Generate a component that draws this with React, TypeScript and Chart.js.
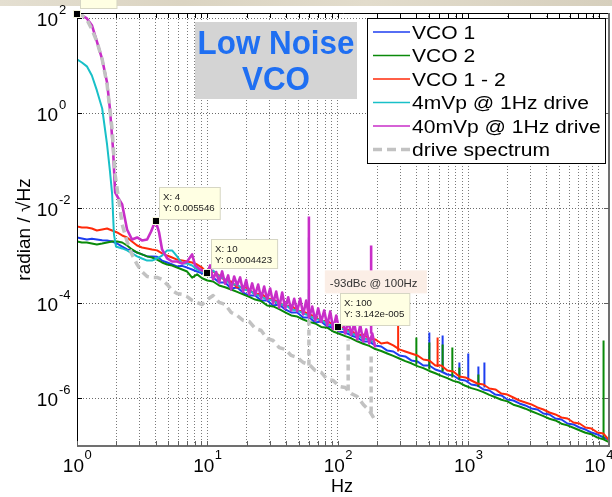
import { useEffect, useRef } from "react";
import { Chart, registerables } from "chart.js";

Chart.register(...registerables);

// ---------- frequency grids (Hz) ----------
const freqLo = [1, 1.09, 1.19, 1.3, 1.42, 1.56, 1.7, 1.86, 2.03, 2.22, 2.42, 2.64, 2.89, 3.15, 3.45, 3.76, 4.11, 4.49, 4.91, 5.36, 5.85, 6.4, 6.99, 7.63, 8.34, 9.11];
const freqHi = [10, 11.06, 12.3, 13.67, 15.2, 16.9, 18.79, 20.89, 23.23, 25.83, 28.72, 31.93, 35.51, 39.48, 43.89, 48.8, 54.26, 60.33, 67.07, 74.57, 82.91, 92.18, 102.5, 114, 126.7, 140.9, 156.6, 174.2, 193.6, 215.3, 239.4, 266.2, 296, 329.1, 365.9, 406.9, 452.4, 503, 559.2, 621.7, 691.3, 768.6, 854.6, 950, 1056, 1175, 1306, 1452, 1614, 1795, 1996, 2219, 2467, 2743, 3050, 3391, 3771, 4193, 4662, 5183, 5763, 6408, 7124, 7921, 8807, 9791, 10885, 11890];
const freqMag = [10, 10.49, 11.06, 11.66, 12.3, 12.97, 13.67, 14.42, 15.2, 16.03, 16.9, 17.82, 18.79, 19.82, 20.89, 22.03, 23.23, 24.49, 25.83, 27.23, 28.72, 30.28, 31.93, 33.67, 35.51, 37.44, 39.48, 41.63, 43.89, 46.28, 48.8, 51.45, 54.26, 57.21, 60.33, 63.61, 67.07, 70.72, 74.57, 78.63, 82.91, 87.42, 92.18, 97.2, 102.5, 108.1, 114, 120.2, 126.7, 133.6, 140.9, 148.6, 156.6, 165.2, 174.2, 183.7, 193.6];
const cyanLoFreq = [1, 1.09, 1.19, 1.3, 1.42, 1.56, 1.7, 1.79, 1.86, 1.92, 1.99, 2.1, 2.22, 2.42, 2.64, 2.89, 3.15, 3.45, 3.76, 4.11, 4.49, 4.91, 5.36, 5.85, 6.4, 6.99, 7.63, 8.34, 9.11];
const magLoFreq = [1, 1.09, 1.19, 1.3, 1.42, 1.56, 1.7, 1.79, 1.89, 1.96, 2.06, 2.22, 2.42, 2.64, 2.89, 3.15, 3.45, 3.7, 4, 4.26, 4.49, 4.91, 5.36, 5.85, 6.4, 6.99, 7.63, 8.05, 8.79];
const grayLoFreq = [1, 1.09, 1.19, 1.3, 1.42, 1.56, 1.7, 1.86, 1.96, 2.06, 2.22, 2.42, 2.64, 2.89, 3.15, 3.45, 3.76, 4.11, 4.49, 4.91, 5.36, 5.85, 6.4, 6.99, 7.63, 8.34, 9.11];

// ---------- series values (radian / sqrt(Hz)) ----------
const vco1Lo = [2.45e-3, 2.33e-3, 2.22e-3, 2.3e-3, 2.22e-3, 2.15e-3, 2.12e-3, 2.02e-3, 1.83e-3, 1.58e-3, 1.37e-3, 1.31e-3, 1.18e-3, 1.08e-3, 9.8e-4, 9.8e-4, 9.6e-4, 8.0e-4, 7.3e-4, 6.6e-4, 6.0e-4, 6.2e-4, 5.7e-4, 5.2e-4, 4.7e-4, 4.3e-4];
const vco1Hi = [3.89e-4, 3.53e-4, 2.77e-4, 2.77e-4, 2.07e-4, 2.17e-4, 1.7e-4, 1.47e-4, 1.47e-4, 1.16e-4, 1.16e-4, 9.07e-5, 9.53e-5, 7.49e-5, 6.47e-5, 6.47e-5, 5.07e-5, 5.07e-5, 3.98e-5, 4.18e-5, 3.28e-5, 3.12e-5, 2.57e-5, 2.45e-5, 2.12e-5, 1.92e-5, 1.58e-5, 1.58e-5, 1.31e-5, 1.24e-5, 1.02e-5, 9.77e-6, 8.05e-6, 7.67e-6, 6.32e-6, 6.02e-6, 4.95e-6, 4.95e-6, 4.08e-6, 3.7e-6, 3.2e-6, 3.05e-6, 2.51e-6, 2.39e-6, 1.97e-6, 1.88e-6, 1.55e-6, 1.47e-6, 1.21e-6, 1.16e-6, 9.53e-7, 9.07e-7, 7.86e-7, 7.14e-7, 6.17e-7, 5.87e-7, 4.83e-7, 4.61e-7, 3.79e-7, 3.61e-7, 2.98e-7, 2.84e-7, 2.45e-7, 2.22e-7, 1.92e-7, 1.75e-7, 1.51e-7, 1.37e-7];
const vco2Lo = [2.02e-3, 1.92e-3, 1.92e-3, 1.83e-3, 1.75e-3, 1.83e-3, 1.92e-3, 2.02e-3, 2.02e-3, 1.92e-3, 1.66e-3, 1.37e-3, 1.18e-3, 1.08e-3, 9.8e-4, 9.3e-4, 8.4e-4, 7.3e-4, 6.6e-4, 6.3e-4, 5.7e-4, 5.2e-4, 4.7e-4, 3.5e-4, 4.1e-4, 3.4e-4];
const vco2Hi = [3.05e-4, 2.9e-4, 2.39e-4, 2.2e-4, 1.97e-4, 1.75e-4, 1.55e-4, 1.38e-4, 1.21e-4, 1.12e-4, 9.07e-5, 8.66e-5, 7.6e-5, 6.5e-5, 5.59e-5, 5.3e-5, 4.6e-5, 4.1e-5, 3.79e-5, 3.2e-5, 3.1e-5, 2.57e-5, 2.3e-5, 2.05e-5, 1.85e-5, 1.6e-5, 1.42e-5, 1.28e-5, 1.1e-5, 1.0e-5, 8.87e-6, 7.9e-6, 6.96e-6, 6.1e-6, 5.5e-6, 4.8e-6, 4.35e-6, 3.8e-6, 3.4e-6, 3.0e-6, 2.68e-6, 2.35e-6, 2.17e-6, 1.85e-6, 1.65e-6, 1.52e-6, 1.36e-6, 1.19e-6, 1.06e-6, 9.4e-7, 8.7e-7, 7.4e-7, 6.8e-7, 6.1e-7, 5.4e-7, 4.8e-7, 4.25e-7, 3.75e-7, 3.45e-7, 2.95e-7, 2.72e-7, 2.42e-7, 2.15e-7, 1.9e-7, 1.76e-7, 1.5e-7, 1.38e-7, 1.22e-7];
const vco12Lo = [4.17e-3, 3.98e-3, 3.98e-3, 3.79e-3, 3.44e-3, 3.61e-3, 3.79e-3, 3.44e-3, 3.12e-3, 2.7e-3, 2.45e-3, 2.02e-3, 1.66e-3, 1.51e-3, 1.44e-3, 1.37e-3, 1.31e-3, 1.13e-3, 1.02e-3, 9.3e-4, 8.4e-4, 8.0e-4, 7.65e-4, 7.3e-4, 6.6e-4, 5.7e-4];
const vco12Hi = [4.28e-4, 4.72e-4, 3.89e-4, 3.05e-4, 2.9e-4, 2.17e-4, 2.28e-4, 1.97e-4, 1.55e-4, 1.62e-4, 1.27e-4, 1.21e-4, 1.05e-4, 8.66e-5, 9.07e-5, 7.14e-5, 6.8e-5, 5.87e-5, 5.33e-5, 4.18e-5, 4.39e-5, 3.44e-5, 3.28e-5, 2.84e-5, 2.7e-5, 2.12e-5, 2.22e-5, 1.83e-5, 1.75e-5, 1.44e-5, 1.51e-5, 1.31e-5, 1.08e-5, 9.77e-6, 8.87e-6, 8.05e-6, 6.63e-6, 6.32e-6, 4.95e-6, 4.95e-6, 3.89e-6, 3.7e-6, 2.9e-6, 2.77e-6, 2.39e-6, 2.07e-6, 1.97e-6, 1.62e-6, 1.55e-6, 1.27e-6, 1.21e-6, 1.05e-6, 9.07e-7, 8.25e-7, 7.49e-7, 6.47e-7, 5.87e-7, 5.07e-7, 4.61e-7, 3.98e-7, 3.79e-7, 3.12e-7, 2.98e-7, 2.45e-7, 2.33e-7, 1.92e-7, 1.83e-7, 1.37e-7];
const cyanLo = [13.7, 11.8, 9.8, 6.3, 3.05, 1.27, 0.222, 0.06, 0.0197, 2.84e-3, 1.58e-3, 1.51e-3, 1.44e-3, 1.31e-3, 1.13e-3, 9.8e-4, 8.85e-4, 8.0e-4, 8.0e-4, 8.85e-4, 1.02e-3, 1.31e-3, 1.31e-3, 9.8e-4, 6.95e-4, 6.95e-4, 6.3e-4, 5.2e-4, 4.7e-4];
const cyanHi = [4.08e-4, 4.95e-4, 3.7e-4, 3.2e-4, 2.51e-4, 2.51e-4, 1.97e-4, 1.88e-4, 1.55e-4, 1.4e-4, 1.21e-4, 1.16e-4, 9.53e-5, 9.53e-5, 7.49e-5, 7.14e-5, 6.17e-5, 5.59e-5, 4.61e-5, 4.61e-5, 3.61e-5, 3.44e-5, 2.98e-5, 2.84e-5, 2.33e-5, 2.12e-5, 1.83e-5, 1.75e-5, 1.44e-5];
const magLo = [125, 116, 100, 72, 33, 13.7, 4.5, 1.21, 0.175, 0.0217, 0.017, 0.0121, 3.6e-3, 2.22e-3, 2.45e-3, 2.12e-3, 2.22e-3, 3.28e-3, 5.546e-3, 3.12e-3, 1.37e-3, 8.85e-4, 7.65e-4, 7.65e-4, 6.95e-4, 7.65e-4, 1.08e-3, 6.3e-4, 5.2e-4];
const magHi = [4.423e-4, 6.32e-4, 3.2e-4, 4.6e-4, 2.77e-4, 4.72e-4, 2.6e-4, 3.89e-4, 1.97e-4, 3.7e-4, 2.4e-4, 3.53e-4, 1.79e-4, 3.1e-4, 1.55e-4, 2.64e-4, 1.5e-4, 2.51e-4, 1.27e-4, 2.28e-4, 1.2e-4, 2.07e-4, 1.0e-4, 1.79e-4, 8.2e-5, 1.7e-4, 7.86e-5, 1.35e-4, 7.14e-5, 1.25e-4, 6.9e-5, 1.27e-4, 5.87e-5, 1.15e-4, 5.07e-5, 8.6e-5, 4.39e-5, 7.86e-5, 4.1e-5, 7.14e-5, 3.44e-5, 6.8e-5, 2.9e-5, 5.59e-5, 2.7e-5, 4.6e-5, 2.33e-5, 4.39e-5, 2.2e-5, 3.79e-5, 1.75e-5, 3.5e-5, 1.58e-5, 2.84e-5, 1.44e-5, 2.33e-5, 1.18e-5];
const grayLo = [120, 116, 95, 58.7, 32.8, 13.7, 4.08, 0.46, 0.052, 0.0197, 4.6e-3, 2.02e-3, 1.08e-3, 6.6e-4, 4.7e-4, 3.7e-4, 3.53e-4, 3.53e-4, 3.2e-4, 2.51e-4, 1.88e-4, 1.62e-4, 1.55e-4, 1.4e-4, 1.16e-4, 1.05e-4, 9.5e-5];
const grayHi = [1.21e-4, 1.47e-4, 1.05e-4, 9.53e-5, 6.47e-5, 5.59e-5, 4.39e-5, 4.18e-5, 2.98e-5, 2.7e-5, 1.83e-5, 1.66e-5, 1.18e-5, 1.08e-5, 8.05e-6, 7.31e-6, 5.73e-6, 5.2e-6, 3.89e-6, 3.53e-6, 2.51e-6, 2.39e-6, 1.79e-6, 1.7e-6, 1.27e-6, 1.1e-6, 7.49e-7, 5.59e-7, 3.44e-7];

// spikes: [frequency, base value, peak value]
const vco1Spikes = [[60, 5.07e-5, 2.45e-3], [503, 4.95e-6, 2.45e-5], [636, 3.89e-6, 2.12e-5], [855, 2.77e-6, 5.73e-6], [1000, 2.28e-6, 8.87e-6], [1196, 1.88e-6, 4.72e-6], [1330, 1.7e-6, 5.73e-6]];
const vco2Spikes = [[60, 5.07e-5, 1.97e-4], [400, 5.2e-6, 1.92e-5], [503, 4.08e-6, 1.51e-5], [636, 3.7e-6, 1.37e-5], [755, 2.77e-6, 1.18e-5], [855, 2.5e-6, 4.5e-6], [1196, 1.75e-6, 3.2e-6], [10900, 1.37e-7, 1.66e-5]];
const vco12Spikes = [[290, 9.77e-6, 3.61e-5], [582, 4.6e-6, 1.92e-5]];
const magSpikes = [[60, 5.07e-5, 6.8e-3], [180, 2.3e-5, 1.66e-3]];
const graySpikes = [[60, 4.95e-6, 4.61e-5], [120, 1.47e-6, 1.75e-5], [180, 5.07e-7, 8.45e-6]];

// ---------- axes / labels ----------
const xMin = 1, xMax = 12000, yMin = 1e-7, yMax = 130;
const xTickValues: number[] = [];
for (let e = 0; e <= 4; e++) for (let m = 1; m <= 9; m++) { const v = m * Math.pow(10, e); if (v <= xMax) xTickValues.push(v); }
const yTickValues = [1e-6, 1e-4, 1e-2, 1, 100];
const xLabelVals = [1, 10, 100, 1000, 10000];
const xLabelExps = ["0", "1", "2", "3", "4"];
const yLabelExps = ["-6", "-4", "-2", "0", "2"];
const seriesLabels = ["VCO 1", "VCO 2", "VCO 1 - 2", "4mVp @ 1Hz drive", "40mVp @ 1Hz drive", "drive spectrum"];
const seriesColors = ["#1e3ef0", "#0a8a0a", "#ff2a0a", "#18c0c8", "#c82ec8", "#c2c2c2"];
const datatips = [
  { x: 1, y: magLo[0], lines: ["X: 1", "Y: 125"], dx: 3, dy: -36, h: 30, showText: false },
  { x: 4, y: 0.005546, lines: ["X: 4", "Y: 0.005546"], dx: 3.5, dy: -34, h: 32, showText: true },
  { x: 10, y: 0.0004423, lines: ["X: 10", "Y: 0.0004423"], dx: 3.6, dy: -34, h: 29, showText: true },
  { x: 100, y: 3.142e-5, lines: ["X: 100", "Y: 3.142e-005"], dx: 2.2, dy: -34, h: 32, showText: true },
];
const noteText = "-93dBc @ 100Hz";
const titleLines = ["Low Noise", "VCO"];

const FONT = "'Liberation Sans', Arial, Helvetica, sans-serif";

const pts = (f: number[], v: number[]) => v.map((y, i) => ({ x: f[i], y }));
const spikePts = (s: number[][]) => {
  const out: any[] = [];
  for (const [f, b, t] of s) out.push({ x: f, y: b }, { x: f, y: t }, { x: f, y: null });
  return out;
};

const overlay = {
  id: "overlay",
  afterDraw(chart: any) {
    const ctx: CanvasRenderingContext2D = chart.ctx;
    const a = chart.chartArea;
    const xs = chart.scales.x;
    const ys = chart.scales.y;
    ctx.save();

    // top photo strip
    const g = ctx.createLinearGradient(0, 0, chart.width, 0);
    g.addColorStop(0, "#e4dfd1");
    g.addColorStop(0.3, "#dbd4c2");
    g.addColorStop(0.6, "#e2dccc");
    g.addColorStop(1, "#d6cfbd");
    ctx.fillStyle = g;
    ctx.fillRect(0, 0, chart.width, 6);

    // frame
    ctx.lineWidth = 1;
    ctx.strokeStyle = "#000";
    ctx.beginPath();
    ctx.moveTo(a.left + 0.5, a.bottom);
    ctx.lineTo(a.left + 0.5, a.top + 0.5);
    ctx.lineTo(a.right, a.top + 0.5);
    ctx.stroke();
    ctx.strokeStyle = "#707070";
    ctx.lineWidth = 2;
    ctx.beginPath();
    ctx.moveTo(a.left, a.bottom);
    ctx.lineTo(a.right, a.bottom);
    ctx.lineTo(a.right, a.top);
    ctx.stroke();

    // ticks
    ctx.lineWidth = 1;
    for (const v of xTickValues) {
      const px = Math.round(xs.getPixelForValue(v)) + 0.5;
      ctx.strokeStyle = "#606060";
      ctx.beginPath(); ctx.moveTo(px, a.bottom); ctx.lineTo(px, a.bottom - 5); ctx.stroke();
      ctx.strokeStyle = "#000";
      ctx.beginPath(); ctx.moveTo(px, a.top); ctx.lineTo(px, a.top + 5); ctx.stroke();
    }
    for (const v of yTickValues) {
      const py = Math.round(ys.getPixelForValue(v)) + 0.5;
      ctx.strokeStyle = "#000";
      ctx.beginPath(); ctx.moveTo(a.left, py); ctx.lineTo(a.left + 5, py); ctx.stroke();
      ctx.strokeStyle = "#606060";
      ctx.beginPath(); ctx.moveTo(a.right, py); ctx.lineTo(a.right - 5, py); ctx.stroke();
    }

    // tick labels
    ctx.fillStyle = "#000";
    ctx.textAlign = "left";
    ctx.textBaseline = "alphabetic";
    const mainFont = "19px " + FONT;
    const expFont = "13px " + FONT;
    xLabelVals.forEach((v, i) => {
      const px = xs.getPixelForValue(v);
      ctx.font = mainFont;
      const w1 = ctx.measureText("10").width;
      ctx.font = expFont;
      const w2 = ctx.measureText(xLabelExps[i]).width;
      const start = px - (w1 + w2) / 2;
      ctx.font = mainFont;
      ctx.fillText("10", start, a.bottom + 26);
      ctx.font = expFont;
      ctx.fillText(xLabelExps[i], start + w1 + 0.5, a.bottom + 13);
    });
    yTickValues.forEach((v, i) => {
      const py = ys.getPixelForValue(v);
      ctx.font = mainFont;
      const w1 = ctx.measureText("10").width;
      ctx.fillText("10", a.left - 19 - w1, py + 7.5);
      ctx.font = expFont;
      ctx.fillText(yLabelExps[i], a.left - 18, py - 4);
    });

    // axis titles
    ctx.font = "18px " + FONT;
    ctx.textAlign = "center";
    ctx.fillText("Hz", (a.left + a.right) / 2 - 1, a.bottom + 46);
    ctx.save();
    ctx.translate(30, (a.top + a.bottom) / 2);
    ctx.rotate(-Math.PI / 2);
    ctx.font = "19px " + FONT;
    ctx.fillText("radian / \u221AHz", 0, 0);
    ctx.restore();

    // title box
    ctx.fillStyle = "#d4d4d4";
    ctx.fillRect(195, 22, 162, 77);
    ctx.fillStyle = "#1f6ff2";
    ctx.font = "bold 33px " + FONT;
    ctx.textAlign = "center";
    [54, 90].forEach((by, i) => {
      ctx.save();
      ctx.translate(276, by);
      ctx.scale(0.95, 1);
      ctx.fillText(titleLines[i], 0, 0);
      ctx.restore();
    });

    // legend
    ctx.fillStyle = "#fff";
    ctx.fillRect(367.5, 18.5, 238, 145);
    ctx.strokeStyle = "#000";
    ctx.lineWidth = 1;
    ctx.strokeRect(367.5, 18.5, 238, 145);
    ctx.font = "18px " + FONT;
    ctx.textAlign = "left";
    seriesLabels.forEach((lab, i) => {
      const cy = 32 + i * 23.5;
      ctx.strokeStyle = seriesColors[i];
      if (i === 5) {
        ctx.lineWidth = 3.5;
        ctx.setLineDash([9, 5]);
      } else {
        ctx.lineWidth = 1.6;
        ctx.setLineDash([]);
      }
      ctx.beginPath();
      ctx.moveTo(373, cy);
      ctx.lineTo(410, cy);
      ctx.stroke();
      ctx.setLineDash([]);
      ctx.fillStyle = "#000";
      ctx.save();
      ctx.translate(412, cy + 6.5);
      ctx.scale(1.17, 1);
      ctx.fillText(lab, 0, 0);
      ctx.restore();
    });

    // note box
    const p4x = xs.getPixelForValue(datatips[3].x);
    const p4y = ys.getPixelForValue(datatips[3].y);
    ctx.fillStyle = "#fbeee6";
    ctx.fillRect(p4x - 13, p4y - 57, 102, 23);
    ctx.fillStyle = "#333";
    ctx.font = "11.5px " + FONT;
    ctx.fillText(noteText, p4x - 8, p4y - 40.5);

    // datatips
    datatips.forEach((d) => {
      const px = xs.getPixelForValue(d.x);
      const py = ys.getPixelForValue(d.y);
      ctx.font = "9.7px " + FONT;
      const w = Math.max(...d.lines.map((l) => ctx.measureText(l).width)) + 9;
      const bx = Math.round(px + d.dx) + 0.5;
      const by = Math.round(py + d.dy) + 0.5;
      ctx.fillStyle = "#ffffe3";
      ctx.fillRect(bx, by, w, d.h);
      ctx.strokeStyle = "#d6d6c4";
      ctx.lineWidth = 1;
      ctx.strokeRect(bx, by, w, d.h);
      if (d.showText) {
        ctx.fillStyle = "#222";
        ctx.fillText(d.lines[0], bx + 3.5, by + 12.5);
        ctx.fillText(d.lines[1], bx + 3.5, by + 23.5);
      }
      ctx.fillStyle = "#f4f4dc";
      ctx.fillRect(Math.round(px) - 4, Math.round(py) - 4, 8, 8);
      ctx.fillStyle = "#000";
      ctx.fillRect(Math.round(px) - 3, Math.round(py) - 3, 6, 6);
    });

    ctx.restore();
  },
};

export default function App() {
  const ref = useRef<HTMLCanvasElement>(null);
  useEffect(() => {
    const line = (label: string, data: any[], color: string, order: number, extra: any = {}) => ({
      label, data, borderColor: color, backgroundColor: color, borderWidth: 2,
      pointRadius: 0, fill: false, order, spanGaps: false, ...extra,
    });
    const [BLUE, GREEN, RED, CYAN, MAG, GRAY] = seriesColors;
    const datasets = [
      line(seriesLabels[0], [...pts(freqLo, vco1Lo), ...pts(freqHi, vco1Hi)], BLUE, 6),
      line("s1", spikePts(vco1Spikes), BLUE, 6),
      line(seriesLabels[1], [...pts(freqLo, vco2Lo), ...pts(freqHi, vco2Hi)], GREEN, 5),
      line("s2", spikePts(vco2Spikes), GREEN, 5),
      line(seriesLabels[2], [...pts(freqLo, vco12Lo), ...pts(freqHi, vco12Hi)], RED, 4),
      line("s3", spikePts(vco12Spikes), RED, 4),
      line(seriesLabels[3], [...pts(cyanLoFreq, cyanLo), ...pts(freqHi, cyanHi)], CYAN, 3),
      line(seriesLabels[4], [...pts(magLoFreq, magLo), ...pts(freqMag, magHi)], MAG, 2, { borderWidth: 2.6 }),
      line("s5", spikePts(magSpikes), MAG, 2, { borderWidth: 2.6 }),
      line(seriesLabels[5], [...pts(grayLoFreq, grayLo), ...pts(freqHi, grayHi)], GRAY, 1, { borderWidth: 3.5, borderDash: [8, 5] }),
      line("s6", spikePts(graySpikes), GRAY, 1, { borderWidth: 3.5, borderDash: [6, 4] }),
    ];
    const chart = new Chart(ref.current as HTMLCanvasElement, {
      type: "line",
      data: { datasets },
      options: {
        responsive: false,
        maintainAspectRatio: false,
        devicePixelRatio: 1,
        animation: false,
        events: [],
        layout: { padding: { left: 77, right: 3, top: 13, bottom: 51 } },
        elements: { point: { radius: 0 }, line: { tension: 0, borderJoinStyle: "round" } },
        plugins: { legend: { display: false }, tooltip: { enabled: false } },
        scales: {
          x: {
            type: "logarithmic", min: xMin, max: xMax,
            ticks: { display: false },
            grid: { color: "#7a7a7a", lineWidth: 1, drawTicks: false },
            border: { display: false, dash: [1, 2] },
            afterBuildTicks: (s: any) => { s.ticks = xTickValues.map((value) => ({ value })); },
          },
          y: {
            type: "logarithmic", min: yMin, max: yMax,
            ticks: { display: false },
            grid: { color: "#6a6a6a", lineWidth: 1, drawTicks: false },
            border: { display: false, dash: [1, 2] },
            afterBuildTicks: (s: any) => { s.ticks = yTickValues.map((value) => ({ value })); },
          },
        },
      } as any,
      plugins: [overlay],
    });
    return () => chart.destroy();
  }, []);
  return (
    <div style={{ position: "absolute", left: 0, top: 0, width: 612, height: 497, background: "#fff" }}>
      <canvas ref={ref} width={612} height={497} style={{ display: "block", width: 612, height: 497 }} />
    </div>
  );
}
